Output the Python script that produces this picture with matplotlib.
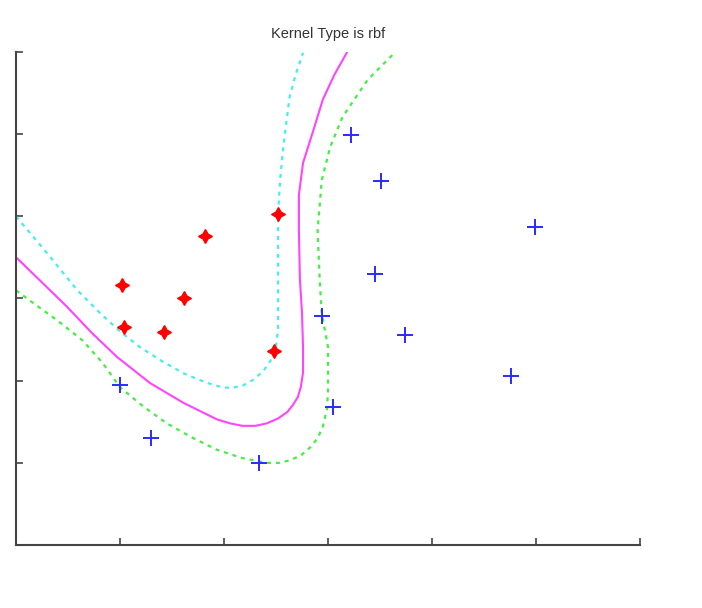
import matplotlib
matplotlib.use('Agg')
import matplotlib.pyplot as plt

# class +1 samples (red) and class -1 samples (blue)
red_x = [1.02, 1.04, 1.42, 1.62, 1.82, 2.52, 2.48]
red_y = [3.16, 2.65, 2.59, 3.00, 3.76, 4.03, 2.36]
blue_x = [3.22, 3.51, 3.45, 2.94, 3.74, 4.99, 4.76, 3.05, 1.00, 1.30, 2.34]
blue_y = [4.99, 4.43, 3.30, 2.79, 2.55, 3.87, 2.06, 1.68, 1.95, 1.30, 1.00]

# decision boundary (traced)
bound_x = [0.01, 0.23, 0.49, 0.73, 0.97, 1.29, 1.61, 1.93, 2.06, 2.18, 2.30,
           2.41, 2.52, 2.61, 2.66, 2.71, 2.74, 2.76, 2.76, 2.75, 2.73, 2.72,
           2.72, 2.76, 2.86, 2.95, 3.06, 3.18]
bound_y = [3.49, 3.22, 2.90, 2.58, 2.29, 1.97, 1.73, 1.53, 1.48, 1.45, 1.45,
           1.48, 1.54, 1.62, 1.70, 1.80, 1.93, 2.10, 2.40, 2.82, 3.23, 3.83,
           4.26, 4.65, 5.05, 5.42, 5.72, 5.99]

# margin +1 (cyan)
plus_x = [0.00, 0.30, 0.59, 0.81, 1.00, 1.19, 1.40, 1.61, 1.82, 1.95, 2.06,
          2.18, 2.28, 2.38, 2.45, 2.50, 2.52, 2.52, 2.52, 2.54, 2.57, 2.63,
          2.69, 2.76]
plus_y = [4.00, 3.55, 3.10, 2.82, 2.60, 2.41, 2.24, 2.09, 1.98, 1.93, 1.91,
          1.94, 2.01, 2.12, 2.25, 2.42, 2.62, 3.23, 4.04, 4.45, 4.84, 5.45,
          5.73, 5.99]

# margin -1 (green)
minus_x = [0.00, 0.16, 0.40, 0.64, 0.83, 1.00, 1.22, 1.45, 1.69, 1.93, 2.17,
           2.41, 2.53, 2.63, 2.74, 2.83, 2.90, 2.95, 2.99, 3.00, 3.00, 2.94,
           2.92, 2.90, 2.94, 3.02, 3.14, 3.38, 3.64]
minus_y = [3.10, 2.95, 2.73, 2.49, 2.22, 1.92, 1.69, 1.48, 1.31, 1.16, 1.06,
           1.00, 1.00, 1.03, 1.09, 1.19, 1.30, 1.44, 1.65, 1.89, 2.41, 2.82,
           3.23, 3.83, 4.44, 4.84, 5.21, 5.66, 5.99]

fig = plt.figure(figsize=(7.02, 6.08), dpi=100)
ax = fig.add_axes([0.0228, 0.1036, 0.8889, 0.8109])

ax.plot(plus_x, plus_y, color='#44eeee', linewidth=1.6, dashes=(1.8, 2.2))
ax.plot(bound_x, bound_y, '-', color='#ff44ff', linewidth=1.5)
ax.plot(minus_x, minus_y, color='#44ee44', linewidth=1.6, dashes=(1.8, 2.2))

ax.plot(red_x, red_y, linestyle='none', marker=(4, 1, 0), markersize=10,
        color='red', markeredgewidth=1.0)
ax.plot(blue_x, blue_y, linestyle='none', marker='+', markersize=11,
        color='#2a2aff', markeredgewidth=1.4)

ax.set_xlim(0, 6)
ax.set_ylim(0, 6)
ax.set_xticks(range(7))
ax.set_yticks(range(7))
ax.set_xticklabels([])
ax.set_yticklabels([])
ax.tick_params(direction='in', length=5, width=1.2, color='#444444')
for side in ['top', 'right']:
    ax.spines[side].set_visible(False)
for side in ['left', 'bottom']:
    ax.spines[side].set_color('#444444')
    ax.spines[side].set_linewidth(1.5)

ax.set_title('Kernel Type is rbf', fontsize=10.5, family='Liberation Sans',
             color='#333333', pad=10)

fig.savefig('out.png', dpi=100)
